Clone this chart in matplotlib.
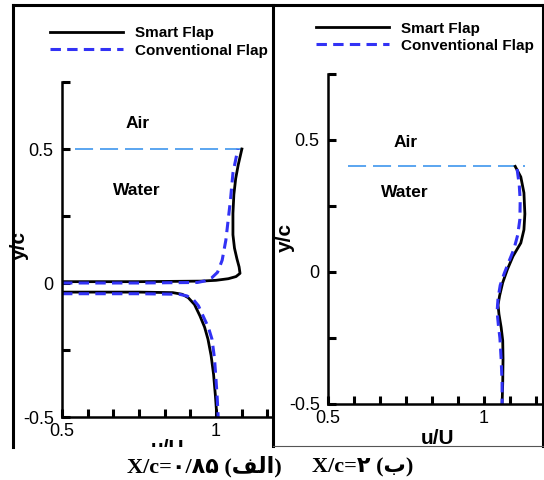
import matplotlib
matplotlib.use("Agg")
import matplotlib.pyplot as plt
from matplotlib.lines import Line2D
from matplotlib.patches import Rectangle
import numpy as np

plt.rcParams['font.family'] = ['Liberation Sans', 'DejaVu Sans']
plt.rcParams['axes.unicode_minus'] = False
plt.rcParams['lines.scale_dashes'] = False

W, H = 544, 480

# ---- data: left panel, X/c = 0.85 ----
smart_up_u_a = [0.5, 0.75, 0.95, 1.0, 1.04, 1.065, 1.078, 1.075, 1.068, 1.06, 1.055, 1.055, 1.058, 1.064, 1.072, 1.084]
smart_up_y_a = [0.005, 0.005, 0.007, 0.01, 0.016, 0.024, 0.036, 0.06, 0.09, 0.13, 0.18, 0.26, 0.33, 0.39, 0.44, 0.5]
smart_lo_u_a = [0.5, 0.75, 0.86, 0.89, 0.91, 0.93, 0.948, 0.963, 0.974, 0.984, 0.992, 0.998, 1.003]
smart_lo_y_a = [-0.034, -0.034, -0.036, -0.042, -0.055, -0.08, -0.123, -0.165, -0.21, -0.27, -0.34, -0.42, -0.5]
conv_up_u_a = [0.5, 0.75, 0.94, 0.965, 0.985, 1.005, 1.02, 1.032, 1.04, 1.047, 1.055, 1.071]
conv_up_y_a = [0.0, 0.0, 0.002, 0.008, 0.018, 0.04, 0.085, 0.16, 0.24, 0.31, 0.41, 0.5]
conv_lo_u_a = [0.5, 0.75, 0.88, 0.905, 0.925, 0.943, 0.958, 0.975, 0.987, 0.995, 1.0, 1.004, 1.007]
conv_lo_y_a = [-0.04, -0.04, -0.042, -0.048, -0.06, -0.085, -0.123, -0.165, -0.21, -0.28, -0.36, -0.43, -0.5]
surface_u_a = [0.542, 1.11]
surface_y_a = [0.5, 0.5]

# ---- data: right panel, X/c = 2 ----
smart_u_b = [1.10, 1.118, 1.128, 1.131, 1.128, 1.118, 1.093, 1.075, 1.06, 1.05, 1.045, 1.048, 1.055, 1.06, 1.061, 1.06, 1.058]
smart_y_b = [0.4, 0.36, 0.30, 0.22, 0.16, 0.11, 0.06, 0.01, -0.04, -0.09, -0.125, -0.16, -0.21, -0.26, -0.33, -0.42, -0.5]
conv_u_b = [1.106, 1.113, 1.116, 1.115, 1.108, 1.096, 1.08, 1.065, 1.052, 1.045, 1.042, 1.046, 1.051, 1.055, 1.058, 1.058]
conv_y_b = [0.39, 0.33, 0.27, 0.20, 0.14, 0.087, 0.04, -0.005, -0.05, -0.1, -0.15, -0.2, -0.25, -0.33, -0.42, -0.5]
surface_u_b = [0.564, 1.131]
surface_y_b = [0.4, 0.4]

legend_labels = ['Smart Flap', 'Conventional Flap']
captions = ['X/c=\u06f0/\u06f8\u06f5 (\ufed2\ufedf\ufe8d)', 'X/c=\u06f2 (\ufe8f)']

black = 'black'
blue = '#3232f5'
sky = '#5aa5f0'


def fx(x):
    return x / W


def fy(y):
    return 1 - y / H


fig = plt.figure(figsize=(5.44, 4.8), dpi=100)
ax1 = fig.add_axes([fx(62), fy(417), (272 - 62) / W, (417 - 82) / H])
ax2 = fig.add_axes([fx(328), fy(404), (541 - 328) / W, (404 - 74) / H])


def style(ax, xmax):
    ax.set_xlim(0.5, xmax)
    ax.set_ylim(-0.5, 0.75)
    for s in ['top', 'right']:
        ax.spines[s].set_visible(False)
    for s in ['left', 'bottom']:
        ax.spines[s].set_linewidth(1.8)
    ax.set_yticks([-0.5, 0, 0.5])
    ax.set_yticklabels(['-0.5', '0', '0.5'])
    ax.set_yticks([-0.25, 0.25, 0.75], minor=True)
    ax.set_xticks([0.5, 1.0])
    ax.set_xticklabels(['0.5', '1'])
    ax.set_xticks([0.5 + k / 12 for k in [1, 2, 3, 4, 5, 7, 8]], minor=True)
    ax.tick_params(which='both', direction='in', length=6, width=2.2, labelsize=13)
    ax.tick_params(axis='x', pad=4)
    ax.tick_params(axis='y', pad=6)
    ax.patch.set_alpha(0)


style(ax1, 0.5 + 210 / 308)
style(ax2, 0.5 + 213 / 312)

lw = 2.0
dash = (0, (7.5, 4.5))
ax1.plot(surface_u_a, surface_y_a, color=sky, lw=1.4, ls=(0, (13, 5)))
h1, = ax1.plot(smart_up_u_a, smart_up_y_a, color=black, lw=lw)
ax1.plot(smart_lo_u_a, smart_lo_y_a, color=black, lw=lw)
h2, = ax1.plot(conv_up_u_a, conv_up_y_a, color=blue, lw=2.2, ls=dash)
ax1.plot(conv_lo_u_a, conv_lo_y_a, color=blue, lw=2.2, ls=dash)

ax2.plot(surface_u_b, surface_y_b, color=sky, lw=1.4, ls=(0, (13, 5)))
g1, = ax2.plot(smart_u_b, smart_y_b, color=black, lw=lw)
g2, = ax2.plot(conv_u_b, conv_y_b, color=blue, lw=2.2, ls=dash)

for ax, (ax_air, ay_air), (ax_w, ay_w) in [(ax1, (0.747, 0.597), (0.744, 0.347)),
                                           (ax2, (0.75, 0.489), (0.747, 0.303))]:
    ax.text(ax_air, ay_air, 'Air', ha='center', va='center', fontsize=12.5, fontweight='bold')
    ax.text(ax_w, ay_w, 'Water', ha='center', va='center', fontsize=12.5, fontweight='bold')

for ax, hs, anchor in [(ax1, (h1, h2), (50, 26.5)), (ax2, (g1, g2), (316, 21.5))]:
    ax.legend(hs, legend_labels, loc='upper left', bbox_to_anchor=(fx(anchor[0]), fy(anchor[1])),
              bbox_transform=fig.transFigure, frameon=False, borderpad=0, borderaxespad=0,
              handlelength=4.8, handletextpad=0.75, labelspacing=0.2,
              prop={'weight': 'bold', 'size': 11})

# axis titles
fig.text(fx(19), fy(245), 'y/c', rotation=90, ha='center', va='center', fontsize=15, fontweight='bold')
fig.text(fx(285), fy(238), 'y/c', rotation=90, ha='center', va='center', fontsize=15, fontweight='bold')
fig.text(fx(168), fy(448), 'u/U', ha='center', va='center', fontsize=15, fontweight='bold')
fig.text(fx(437), fy(438), 'u/U', ha='center', va='center', fontsize=15, fontweight='bold')

# panel frames
def fline(xs, ys, **kw):
    fig.add_artist(Line2D([fx(x) for x in xs], [fy(y) for y in ys], transform=fig.transFigure, **kw))


fig.add_artist(Rectangle((0, 0), fx(273), fy(447), transform=fig.transFigure,
                         facecolor='white', edgecolor='none', zorder=5))
fline([13, 13], [5, 447], color='black', lw=2.2, zorder=6)
fline([13, 543], [5, 5], color='black', lw=2.2, zorder=6)
fline([273, 273], [5, 446], color='black', lw=2.2, zorder=6)
fline([542.5, 542.5], [5, 446], color='black', lw=2.2, zorder=6)
fline([273, 543], [446, 446], color='#555555', lw=0.8, zorder=6)

# captions
fig.text(fx(127), fy(467), captions[0], ha='left', va='center', fontsize=16, fontweight='bold',
         family=['Liberation Serif', 'DejaVu Sans'], zorder=7)
fig.text(fx(312), fy(467), captions[1], ha='left', va='center', fontsize=16, fontweight='bold',
         family=['Liberation Serif', 'DejaVu Sans'], zorder=7)

fig.savefig('out.png', dpi=100)
